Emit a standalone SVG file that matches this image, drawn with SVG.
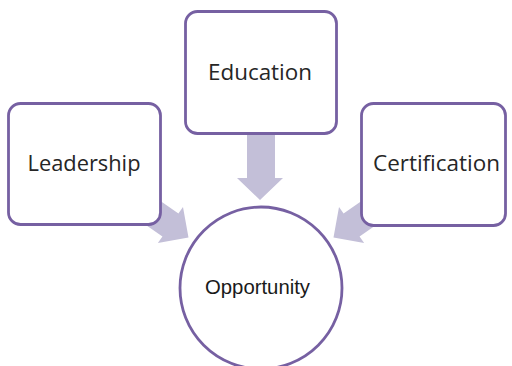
<svg xmlns="http://www.w3.org/2000/svg" width="512" height="366" viewBox="0 0 512 366">
<style>
.box{fill:#fff;stroke:#7660a2;stroke-width:2.8}
.arrow{fill:#c3bfd8;stroke:none}
.lbl{font-family:"Open Sans","Noto Sans",sans-serif;font-size:21px;fill:#262626;text-anchor:middle}
.lbl2{font-family:"Liberation Sans",Arial,sans-serif;font-size:19.5px;fill:#1a1a1a;text-anchor:middle}
</style>
<g id="connectors">
<polygon class="arrow" points="247,125 275,125 275,178 283,178 260,200 237,178 247,178"/>
<polygon class="arrow" transform="translate(188.5,237.5) rotate(34.8)" points="0,0 -22,-22 -22,-14 -75,-14 -75,14 -22,14 -22,22"/>
<polygon class="arrow" transform="translate(333.5,237.5) rotate(145.2)" points="0,0 -22,-22 -22,-14 -75,-14 -75,14 -22,14 -22,22"/>
</g>
<g id="leadership">
<rect class="box" x="8.5" y="103.5" width="152" height="121" rx="12"/>
<text class="lbl" x="84" y="171" textLength="113" lengthAdjust="spacingAndGlyphs">Leadership</text>
</g>
<g id="education">
<rect class="box" x="185.5" y="11.5" width="151" height="122" rx="12"/>
<text class="lbl" x="260" y="80" textLength="104" lengthAdjust="spacingAndGlyphs">Education</text>
</g>
<g id="certification">
<rect class="box" x="361.5" y="103.5" width="144" height="122" rx="12"/>
<text class="lbl" x="436.5" y="171" textLength="127" lengthAdjust="spacingAndGlyphs">Certification</text>
</g>
<g id="opportunity">
<circle class="box" cx="261" cy="288" r="81"/>
<text class="lbl2" x="257.5" y="294" textLength="105" lengthAdjust="spacingAndGlyphs">Opportunity</text>
</g>
</svg>
